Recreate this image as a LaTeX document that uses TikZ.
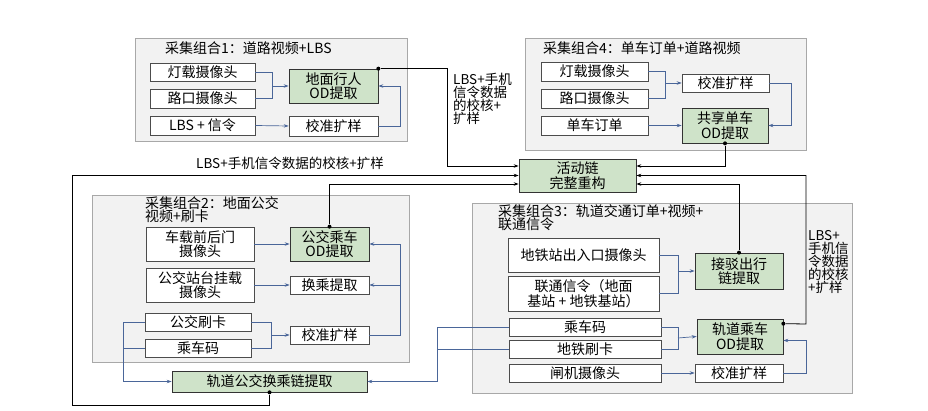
\documentclass[tikz,border=0pt]{standalone}
\usepackage{fontspec}
\setmainfont{Noto Sans CJK SC}
\usetikzlibrary{arrows.meta,calc}
\definecolor{grpfill}{HTML}{F2F2F2}
\definecolor{grpline}{HTML}{A8A8A8}
\definecolor{gfill}{HTML}{CFE3C9}
\definecolor{bline}{HTML}{4A6699}
\tikzset{
  grp/.style={draw=grpline,fill=grpfill,inner sep=0,line width=0.8pt},
  wb/.style={draw=black!70,fill=white,inner sep=0,align=center,font=\fontsize{14}{14.5}\selectfont,line width=0.6pt},
  gb/.style={draw=black!80,fill=gfill,inner sep=0,align=center,font=\fontsize{14}{14.5}\selectfont,line width=0.7pt},
  ttl/.style={inner sep=0,anchor=north west,align=left,font=\fontsize{14}{13}\selectfont},
  lbl/.style={inner sep=0,align=left,font=\fontsize{13.5}{13}\selectfont},
  bl/.style={draw=bline,line width=0.7pt},
  bla/.style={bl,-{Stealth[length=5pt,width=3.5pt]}},
  bk/.style={draw=black,line width=0.8pt},
  bka/.style={bk,-{Stealth[length=5pt,width=3.5pt]}},
  dot/.style={circle,fill=black,inner sep=0,minimum size=4pt}
}
\begin{document}
\begin{tikzpicture}[x=1pt,y=-1pt]
\useasboundingbox[fill=white] (0,0) rectangle (928,411);
% groups
\node[grp,minimum width=272pt,minimum height=103pt] (g1) at (271,89.5) {};
\node[grp,minimum width=281pt,minimum height=112pt] (g4) at (665.5,94) {};
\node[grp,minimum width=317pt,minimum height=167pt] (g2) at (250.5,278.5) {};
\node[grp,minimum width=380pt,minimum height=190pt] (g3) at (662,298) {};
\node[ttl] (t1) at (165,41) {采集组合1：道路视频+LBS};
\node[ttl] (t4) at (543,41) {采集组合4：单车订单+道路视频};
\node[ttl] (t2) at (145,196) {采集组合2：地面公交\\视频+刷卡};
\node[ttl] (t3) at (498,204) {采集组合3：轨道交通订单+视频+\\联通信令};
% group1
\node[wb,minimum width=105pt,minimum height=18pt] (a1) at (202.5,72) {灯载摄像头};
\node[wb,minimum width=105pt,minimum height=19pt] (a2) at (202.5,98.5) {路口摄像头};
\node[wb,minimum width=105pt,minimum height=19pt] (a3) at (202.5,125.5) {LBS + 信令};
\node[gb,minimum width=89pt,minimum height=34pt] (a4) at (333.5,86) {地面行人\\OD提取};
\node[wb,minimum width=89pt,minimum height=20pt] (a5) at (333.5,126) {校准扩样};
% group4
\node[wb,minimum width=107pt,minimum height=19pt] (d1) at (594.5,71.5) {灯载摄像头};
\node[wb,minimum width=107pt,minimum height=19pt] (d2) at (594.5,98.5) {路口摄像头};
\node[wb,minimum width=107pt,minimum height=19pt] (d3) at (594.5,125.5) {单车订单};
\node[wb,minimum width=87pt,minimum height=18pt] (d4) at (725.5,83) {校准扩样};
\node[gb,minimum width=86pt,minimum height=35pt] (d5) at (725,125.5) {共享单车\\OD提取};
% hub
\node[gb,minimum width=117pt,minimum height=33pt] (hub) at (577.5,175.5) {活动链\\完整重构};
% group2
\node[wb,minimum width=108pt,minimum height=34pt] (b1) at (200,244) {车载前后门\\摄像头};
\node[gb,minimum width=79pt,minimum height=34pt] (b2) at (329.5,244) {公交乘车\\OD提取};
\node[wb,minimum width=108pt,minimum height=34pt] (b3) at (200,285) {公交站台挂载\\摄像头};
\node[wb,minimum width=79pt,minimum height=18pt] (b4) at (329.5,285) {换乘提取};
\node[wb,minimum width=106pt,minimum height=18pt] (b5) at (198,322) {公交刷卡};
\node[wb,minimum width=106pt,minimum height=18pt] (b6) at (198,348) {乘车码};
\node[wb,minimum width=79pt,minimum height=18pt] (b7) at (329.5,335) {校准扩样};
\node[gb,minimum width=195pt,minimum height=21pt] (rail) at (269.5,381.5) {轨道公交换乘链提取};
% group3
\node[wb,minimum width=151pt,minimum height=34pt] (c1) at (583.5,255) {地铁站出入口摄像头};
\node[wb,minimum width=151pt,minimum height=35pt] (c2) at (583.5,293.5) {联通信令（地面\\基站 + 地铁基站）};
\node[gb,minimum width=88pt,minimum height=36pt] (c3) at (739,271) {接驳出行\\链提取};
\node[wb,minimum width=152pt,minimum height=18pt] (c4) at (585,327) {乘车码};
\node[wb,minimum width=152pt,minimum height=18pt] (c5) at (585,349) {地铁刷卡};
\node[gb,minimum width=86pt,minimum height=35pt] (c6) at (740,336.5) {轨道乘车\\OD提取};
\node[wb,minimum width=152pt,minimum height=18pt] (c7) at (585,373) {闸机摄像头};
\node[wb,minimum width=88pt,minimum height=18pt] (c8) at (739,373) {校准扩样};
% labels
\node[lbl,anchor=north west] (l1) at (453,73) {LBS+手机\\信令数据\\的校核+\\扩样};
\node[lbl] (l2) at (290,163) {LBS+手机信令数据的校核+扩样};
\node[lbl,anchor=north west] (l3) at (808,230) {LBS+\\手机信\\令数据\\的校核\\+扩样};
% group1 links
\coordinate (m1) at (272,86);
\draw[bl] (a1.east) -| (m1); \draw[bl] (a2.east) -| (m1);
\draw[bla] (m1) -- (a4.west);
\draw[bla] (a3.east) -- (a5.west);
\draw[bla] (a5.east) -- (400,126) |- (a4.east);
% group4 links
\coordinate (m4) at (665,83);
\draw[bl] (d1.east) -| (m4); \draw[bl] (d2.east) -| (m4);
\draw[bla] (m4) -- (d4.west);
\draw[bla] (d3.east) -- (d5.west);
\draw[bla] (d4.east) -- (791,83) |- (d5.east);
% group2 links
\draw[bla] (b1.east) -- (b2.west);
\draw[bla] (b3.east) -- (b4.west);
\coordinate (m2) at (271,335);
\draw[bl] (b5.east) -| (m2); \draw[bl] (b6.east) -| (m2);
\draw[bla] (m2) -- (b7.west);
\draw[bl] (b7.east) -- (400,335) -- (400,244);
\draw[bla] (400,244) -- (b2.east);
\draw[bla] (400,285) -- (b4.east);
\draw[bl] (b5.west) -- (123,322) -- (123,381.5);
\draw[bl] (b6.west) -- (123,348);
\draw[bla] (123,381.5) -- (rail.west);
\draw[bl] (c4.west) -- (437,327) -- (437,381.5);
\draw[bl] (c5.west) -- (437,349);
\draw[bla] (437,381.5) -- (rail.east);
% group3 links
\coordinate (m3) at (678,271);
\draw[bl] (c1.east) -| (m3); \draw[bl] (c2.east) -| (m3);
\draw[bla] (m3) -- (c3.west);
\coordinate (m5) at (678,338);
\draw[bl] (c4.east) -| (m5); \draw[bl] (c5.east) -| (m5);
\draw[bla] (m5) -- (c6.west);
\draw[bla] (c7.east) -- (c8.west);
\draw[bla] (c8.east) -- (806,373) |- ([yshift=-4pt]c6.east);
% to hub
\node[dot] (p1) at (a4.north east) {};
\draw[bka] (p1) -| (447,166) -- ([yshift=9.5pt]hub.west);
\node[dot] (p2) at (rail.south) {};
\draw[bka] (p2) -- (rail.south |- 0,405) -- (72,405) -- (72,175.5) -- (hub.west);
\node[dot] (p3) at (b2.north) {};
\draw[bka] (p3) |- ([yshift=-8.5pt]hub.west);
\node[dot] (p4) at (d5.south) {};
\draw[bka] (p4) |- ([yshift=9.5pt]hub.east);
\node[dot] (p5) at ([yshift=-5pt]c6.north east) {};
\draw[bka] (p5) -- (806,324) -- (806,175.5) -- (hub.east);
\node[dot] (p6) at (c3.north) {};
\draw[bka] (p6) |- ([yshift=-8.5pt]hub.east);
\end{tikzpicture}
\end{document}
